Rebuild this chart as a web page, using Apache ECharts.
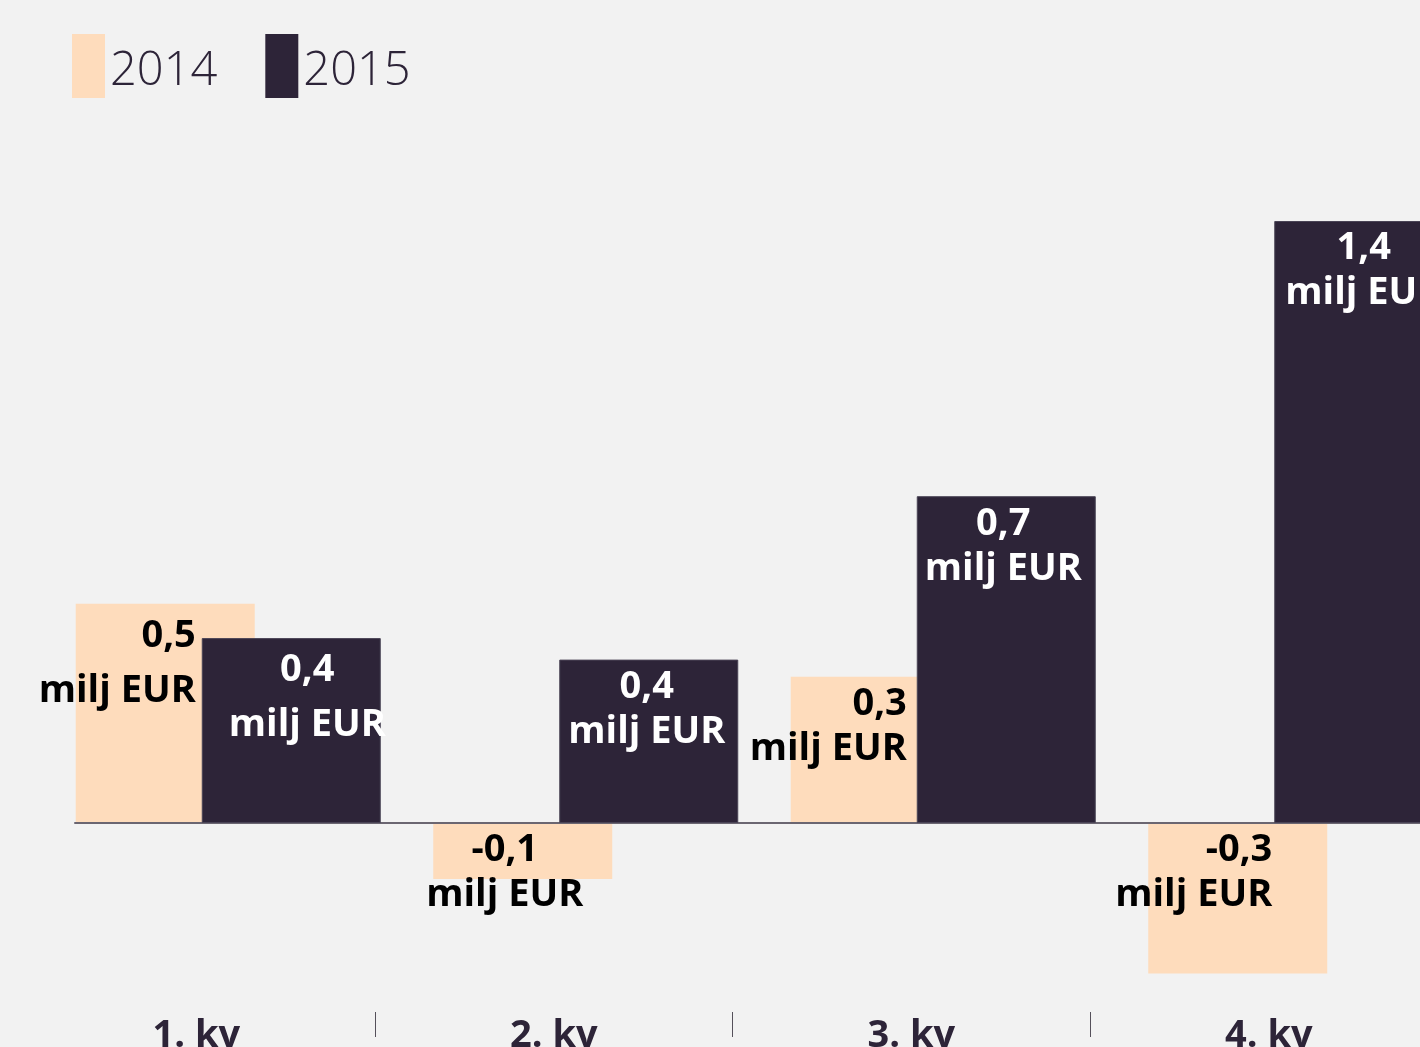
<!DOCTYPE html>
<html><head><meta charset="utf-8">
<script src="https://cdn.jsdelivr.net/npm/echarts@6/dist/echarts.min.js"></script>
<style>html,body{margin:0;padding:0;background:#f2f2f2;} #c{width:1420px;height:1047px;}</style>
</head><body><div id="c"></div>
<script>
const categories = ['1. kv', '2. kv', '3. kv', '4. kv'];
const seriesNames = ['2014', '2015'];
const values2014 = [0.51, -0.13, 0.34, -0.35];
const values2015 = [0.43, 0.38, 0.76, 1.40];
const labels2014 = ['0,5', '-0,1', '0,3', '-0,3'];
const labels2015 = ['0,4', '0,4', '0,7', '1,4'];
const unit = 'milj EUR';

const FONT = "'Open Sans', sans-serif";
const DARK = '#2d2438';
const PEACH = '#fedcbc';

const labelStyle2014 = [
  { position: 'insideTopRight', align: 'right', offset: [-54, 0], lineHeight: 55 },
  { position: 'insideTop', align: 'center', offset: [-18, 0] },
  { position: 'insideTopRight', align: 'right', offset: [-58, 0] },
  { position: 'insideTopRight', align: 'right', offset: [-50, 0] }
];
const labelStyle2015 = [
  { offset: [16, 0], lineHeight: 55 },
  { offset: [-2, 0] },
  { offset: [-3, 0] },
  { offset: [0, 0] }
];

const chart = echarts.init(document.getElementById('c'));
const baseLabel = {
  show: true, fontFamily: FONT, fontSize: 38, fontWeight: 'bold',
  lineHeight: 45, distance: 5, textBorderWidth: 0
};
chart.setOption({
  backgroundColor: '#f2f2f2',
  animation: false,
  legend: {
    left: 67, top: 29, itemWidth: 33, itemHeight: 64, itemGap: 48, icon: 'rect',
    selectedMode: false, data: seriesNames,
    itemStyle: { borderWidth: 0 },
    formatter: '{a|{name}}',
    textStyle: {
      fontFamily: FONT, fontSize: 47, fontWeight: 300, color: DARK,
      rich: { a: { fontFamily: FONT, fontSize: 47, fontWeight: 300, color: DARK, padding: [12, 0, 0, 0] } }
    }
  },
  grid: [
    { left: 49.5, width: 1430, top: 135, bottom: 52, outerBoundsMode: 'none', containLabel: false },
    { left: 17.5, width: 1430, top: 135, bottom: 35, outerBoundsMode: 'none', containLabel: false },
    { left: 75, right: 0, top: 135, bottom: 52, outerBoundsMode: 'none', containLabel: false }
  ],
  xAxis: [
    { gridIndex: 0, type: 'category', data: categories, show: false },
    {
      gridIndex: 1, type: 'category', data: categories,
      axisLine: { show: false, onZero: false },
      axisTick: { show: true, length: 25, interval: (i) => i !== 0, lineStyle: { color: '#55505a', width: 1 } },
      axisLabel: { fontFamily: FONT, fontSize: 38, fontWeight: 'bold', color: DARK, margin: 5 }
    },
    {
      gridIndex: 2, type: 'category', data: [''], z: 3,
      axisLine: { show: true, onZero: true, lineStyle: { color: '#6b6671', width: 2 } },
      axisTick: { show: false }, axisLabel: { show: false }
    }
  ],
  yAxis: [
    { gridIndex: 0, type: 'value', min: -0.4, max: 1.6, show: false },
    { gridIndex: 1, type: 'value', show: false },
    { gridIndex: 2, type: 'value', min: -0.4, max: 1.6, show: false }
  ],
  series: [
    {
      name: '2014', type: 'bar', xAxisIndex: 0, yAxisIndex: 0, z: 2,
      barWidth: 179, barGap: '-29.6%',
      itemStyle: { color: PEACH },
      label: Object.assign({}, baseLabel, { color: '#000',
        formatter: (p) => labels2014[p.dataIndex] + '\n' + unit }),
      data: values2014.map((v, i) => ({ value: v, label: labelStyle2014[i] }))
    },
    {
      name: '2015', type: 'bar', xAxisIndex: 0, yAxisIndex: 0, z: 4,
      barWidth: 179, barGap: '-29.6%',
      itemStyle: { color: DARK, borderColor: '#4a4456', borderWidth: 1 },
      label: Object.assign({}, baseLabel, { color: '#fff', position: 'insideTop', align: 'center',
        formatter: (p) => labels2015[p.dataIndex] + '\n' + unit }),
      data: values2015.map((v, i) => ({ value: v, label: labelStyle2015[i] }))
    }
  ]
});
</script>
</body></html>
